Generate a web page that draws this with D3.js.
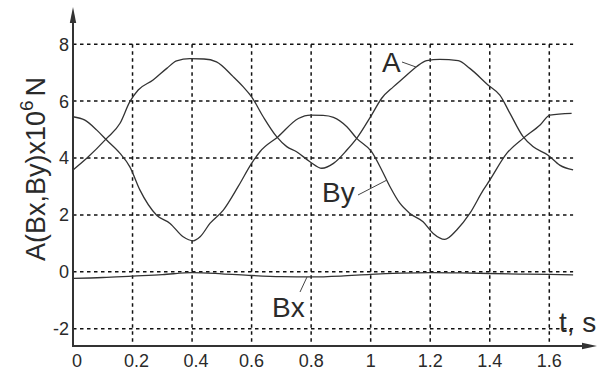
<!DOCTYPE html>
<html><head><meta charset="utf-8">
<script src="https://cdn.jsdelivr.net/npm/d3@7"></script>
<style>html,body{margin:0;padding:0;background:#fff;}svg{display:block;}</style>
</head><body>
<svg id="c" width="597" height="372"></svg>
<script>
// ---- data ----
const xTicks = [0, 0.2, 0.4, 0.6, 0.8, 1, 1.2, 1.4, 1.6];
const xTickLabels = ["0", "0.2", "0.4", "0.6", "0.8", "1", "1.2", "1.4", "1.6"];
const yTicks = [-2, 0, 2, 4, 6, 8];
const yTickLabels = ["-2", "0", "2", "4", "6", "8"];

const tA = [0,0.046,0.113,0.158,0.191,0.219,0.269,0.315,0.348,0.393,0.44,0.482,0.538,0.572,0.6,0.639,0.684,0.718,0.751,0.796,0.836,0.875,0.92,0.953,1.003,1.037,1.076,1.109,1.154,1.188,1.232,1.294,1.333,1.395,1.434,1.468,1.512,1.545,1.596,1.635,1.68];
const vA = [3.58,3.99,4.69,5.22,5.98,6.39,6.74,7.15,7.41,7.49,7.48,7.38,6.86,6.50,6.15,5.45,4.75,4.40,4.22,3.87,3.64,3.81,4.28,4.69,5.51,6.10,6.50,6.80,7.21,7.42,7.47,7.42,7.15,6.56,6.21,5.57,4.75,4.40,4.10,3.75,3.58];

const tBy = [0,0.04,0.08,0.113,0.158,0.191,0.225,0.281,0.326,0.37,0.404,0.427,0.46,0.505,0.555,0.6,0.628,0.689,0.757,0.798,0.84,0.875,0.92,0.953,1.003,1.037,1.065,1.098,1.132,1.176,1.21,1.249,1.289,1.333,1.378,1.4,1.457,1.512,1.569,1.602,1.675];
const vBy = [5.45,5.33,4.98,4.63,4.16,3.69,2.87,1.99,1.70,1.23,1.09,1.23,1.70,2.17,3.00,3.81,4.22,4.75,5.39,5.51,5.50,5.43,5.10,4.69,4.22,3.58,2.99,2.41,2.05,1.76,1.35,1.14,1.47,2.05,2.87,3.22,4.16,4.69,5.16,5.51,5.57];

const tBx = [0,0.1,0.2,0.3,0.4,0.5,0.6,0.7,0.8,0.9,1.0,1.1,1.2,1.3,1.4,1.5,1.6,1.68];
const vBx = [-0.23,-0.20,-0.15,-0.10,-0.03,-0.07,-0.13,-0.17,-0.18,-0.15,-0.09,-0.05,-0.03,-0.04,-0.06,-0.08,-0.09,-0.11];

// ---- drawing ----
const svg = d3.select("#c");
const ink = "#2a2a2a";
const x = d3.scaleLinear().domain([0, 1.68]).range([73, 573.1]);
const y = d3.scaleLinear().domain([-2, 8]).range([328.7, 44.2]);
const axisY = 346;
const font = "'Liberation Sans', Arial, sans-serif";

svg.append("rect").attr("width", 597).attr("height", 372).attr("fill", "#fff");

// grid
const grid = svg.append("g").attr("stroke", "#111").attr("stroke-width", 1.5).attr("stroke-dasharray", "3.5,3.5");
grid.selectAll("line.h").data(yTicks).join("line").attr("class", "h")
  .attr("x1", x(0)).attr("x2", x(1.68)).attr("y1", d => y(d)).attr("y2", d => y(d));
grid.selectAll("line.v").data(xTicks.filter(d => d > 0)).join("line").attr("class", "v")
  .attr("x1", d => x(d)).attr("x2", d => x(d)).attr("y1", y(8)).attr("y2", axisY);

// axes with arrows
const ax = svg.append("g").attr("stroke", "#333").attr("stroke-width", 2);
ax.append("line").attr("x1", x(0)).attr("x2", x(0)).attr("y1", axisY + 1).attr("y2", 18);
ax.append("line").attr("x1", x(0) - 1).attr("x2", 588).attr("y1", axisY).attr("y2", axisY);
svg.append("path").attr("d", `M${x(0)},7 L${x(0) - 3.2},23 L${x(0) + 3.2},23 Z`).attr("fill", "#333");
svg.append("path").attr("d", `M597,${axisY} L582,${axisY - 3.2} L582,${axisY + 3.2} Z`).attr("fill", "#333");

// tick labels
svg.append("g").selectAll("text").data(yTicks).join("text")
  .attr("x", 69).attr("y", d => y(d)).attr("dy", "0.36em")
  .attr("text-anchor", "end").attr("font-family", font).attr("font-size", 18).attr("fill", ink)
  .text((d, i) => yTickLabels[i]);
svg.append("g").selectAll("text").data(xTicks).join("text")
  .attr("x", d => x(d) + (d < 0.5 ? 4 : 0)).attr("y", 367)
  .attr("text-anchor", "middle").attr("font-family", font).attr("font-size", 18).attr("fill", ink)
  .text((d, i) => xTickLabels[i]);

// curves
const line = d3.line().x(d => x(d[0])).y(d => y(d[1])).curve(d3.curveMonotoneX);
const series = [
  { t: tA, v: vA },
  { t: tBy, v: vBy },
  { t: tBx, v: vBx }
];
svg.append("g").selectAll("path").data(series).join("path")
  .attr("d", s => line(s.t.map((t, i) => [t, s.v[i]])))
  .attr("fill", "none").attr("stroke", "#333").attr("stroke-width", 1.3);

// annotations
const ann = svg.append("g").attr("font-family", font).attr("font-size", 28).attr("fill", ink);
ann.append("text").attr("x", 382).attr("y", 72).text("A");
ann.append("text").attr("x", 322).attr("y", 202).text("By");
ann.append("text").attr("x", 272).attr("y", 317).text("Bx");
ann.append("text").attr("x", 559).attr("y", 332).text("t, s");
const lead = svg.append("g").attr("stroke", "#444").attr("stroke-width", 1);
lead.append("line").attr("x1", 402).attr("y1", 62).attr("x2", 416).attr("y2", 67);
lead.append("line").attr("x1", 358).attr("y1", 195).attr("x2", 387).attr("y2", 180);
lead.append("line").attr("x1", 300).attr("y1", 292).attr("x2", 307).attr("y2", 277);

// y axis title
const yt = svg.append("text").attr("transform", "translate(45,261) rotate(-90)")
  .attr("font-family", font).attr("font-size", 27).attr("fill", ink);
yt.append("tspan").text("A(Bx,By)x10");
yt.append("tspan").attr("font-size", 19).attr("dy", -12).text("6");
yt.append("tspan").attr("dy", 12).attr("dx", 4).text("N");
</script>
</body></html>
